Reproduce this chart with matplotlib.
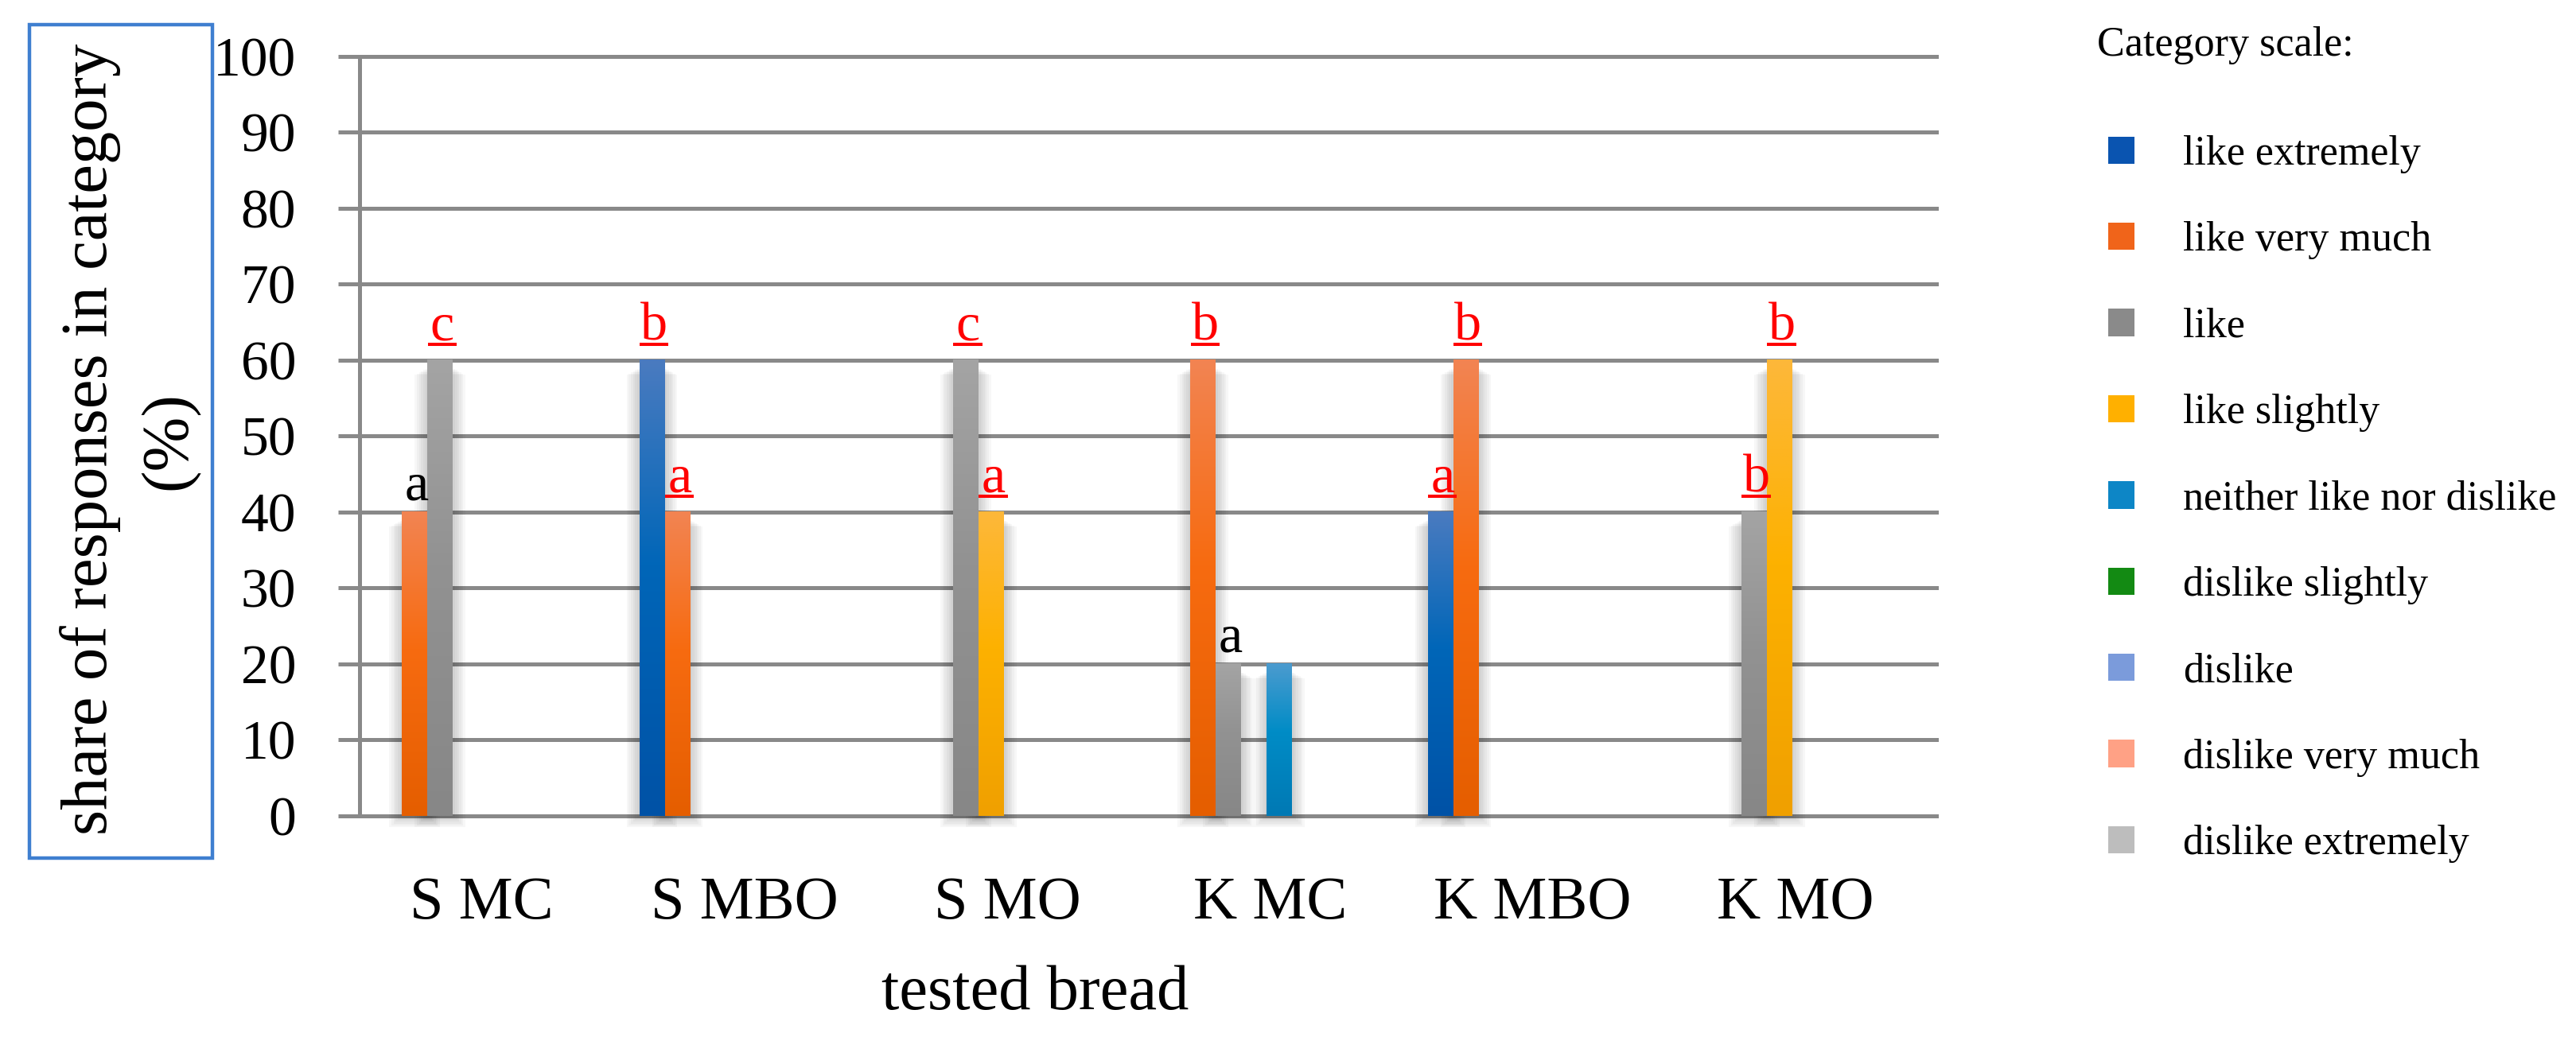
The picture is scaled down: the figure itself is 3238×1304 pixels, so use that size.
import numpy as np
import matplotlib
matplotlib.use('Agg')
import matplotlib.pyplot as plt
from matplotlib.colors import LinearSegmentedColormap
from matplotlib.patches import Patch, Rectangle

plt.rcParams['font.family'] = ['Liberation Serif', 'DejaVu Serif']

breads = ['S MC', 'S MBO', 'S MO', 'K MC', 'K MBO', 'K MO']
scale = ['like extremely', 'like very much', 'like', 'like slightly',
         'neither like nor dislike', 'dislike slightly', 'dislike',
         'dislike very much', 'dislike extremely']

# share of responses (%) per bread, one list per category of the scale
like_extremely = [0, 60, 0, 0, 40, 0]
like_very_much = [40, 40, 0, 60, 60, 0]
like = [60, 0, 60, 20, 0, 40]
like_slightly = [0, 0, 40, 0, 0, 60]
neither = [0, 0, 0, 20, 0, 0]
dislike_slightly = [0, 0, 0, 0, 0, 0]
dislike = [0, 0, 0, 0, 0, 0]
dislike_very_much = [0, 0, 0, 0, 0, 0]
dislike_extremely = [0, 0, 0, 0, 0, 0]

# letters over the bars: bread index, scale index, letter, red+underlined
sig_bread = [0, 0, 1, 1, 2, 2, 3, 3, 4, 4, 5, 5]
sig_scale = [1, 2, 0, 1, 2, 3, 1, 2, 0, 1, 2, 3]
sig_letter = ['a', 'c', 'b', 'a', 'c', 'a', 'b', 'a', 'a', 'b', 'b', 'b']
sig_red = [False, True, True, True, True, True, True, False, True, True, True, True]

colors = ['#0A54B0', '#F0641A', '#8A8A8A', '#FFB000', '#0D86C6',
          '#138A13', '#7B9BDB', '#FFA185', '#BDBDBD']
# bottom, middle, top of the bar gradient
grads = [('#0152A6', '#0066B8', '#4A7BC0'),
         ('#E55E00', '#F76B10', '#F28452'),
         ('#878787', '#929292', '#A4A4A4'),
         ('#F0A000', '#FDB100', '#FDB83A'),
         ('#0079B4', '#008CC6', '#4B9BCF'),
         ('#0E7A0E', '#138A13', '#4FA84F'),
         ('#6A8AD0', '#7B9BDB', '#9AB2E4'),
         ('#FF9070', '#FFA185', '#FFB8A0'),
         ('#AFAFAF', '#BDBDBD', '#CDCDCD')]

GRID = '#898989'


def main():
    values = [like_extremely, like_very_much, like, like_slightly, neither,
              dislike_slightly, dislike, dislike_very_much, dislike_extremely]
    n = len(scale)
    w = 0.0968
    x = np.arange(len(breads))

    fig = plt.figure(figsize=(32.38, 13.04), dpi=100)
    ax = fig.add_axes([0.1396, 0.2132, 0.6121, 0.7324])

    for k, vals in enumerate(values):
        xs = x + (k - (n - 1) / 2) * w
        bars = ax.bar(xs, vals, w, color=colors[k], linewidth=0, zorder=3)
        cmap = LinearSegmentedColormap.from_list(
            'g%d' % k, [(0, grads[k][0]), (0.55, grads[k][1]), (1, grads[k][2])])
        for b in bars:
            h = b.get_height()
            if h <= 0:
                continue
            x0 = b.get_x()
            # soft shadow
            for j in range(1, 7):
                pad = j * 0.008
                ax.add_patch(Rectangle((x0 - pad, -0.25 * j), w + 2 * pad, h - 1.0 + 0.1 * j,
                                       color='k', alpha=0.032, lw=0, zorder=2, clip_on=False))
            ax.imshow(np.linspace(0, 1, 200).reshape(-1, 1), extent=(x0, x0 + w, 0, h),
                      origin='lower', aspect='auto', cmap=cmap, zorder=3.5,
                      interpolation='bilinear')

    for bi, si, let, red in zip(sig_bread, sig_scale, sig_letter, sig_red):
        xc = x[bi] + (si - (n - 1) / 2) * w + 0.008
        top = values[si][bi]
        if red:
            ax.text(xc, top + 2.7, let, ha='center', va='baseline', fontsize=49,
                    color='red', zorder=6)
            ax.plot([xc - 0.055, xc + 0.055], [top + 2.1, top + 2.1], color='red',
                    lw=2.9, solid_capstyle='butt', zorder=6)
        else:
            ax.text(xc, top + 1.6, let, ha='center', va='baseline', fontsize=49,
                    color='black', zorder=6)

    ax.set_xlim(-0.5, 5.5)
    ax.set_ylim(0, 100)
    ax.set_yticks(range(0, 101, 10))
    ax.set_xticks(x - 0.036, breads)
    ax.tick_params(axis='y', direction='out', length=19.4, width=3.6, color=GRID,
                   labelsize=50, pad=38)
    ax.tick_params(axis='x', length=0, labelsize=55, pad=55)
    ax.grid(axis='y', color=GRID, lw=3.6)
    ax.set_axisbelow(True)
    for gl in ax.yaxis.get_gridlines():
        gl.set_clip_on(False)
    for s in ['top', 'right', 'bottom']:
        ax.spines[s].set_visible(False)
    ax.spines['left'].set_color(GRID)
    ax.spines['left'].set_linewidth(3.6)

    ax.set_xlabel('tested bread', fontsize=58)
    ax.xaxis.set_label_coords(0.4284, -0.196)

    fig.text(113 / 3238, 1 - 552 / 1304, 'share of responses in category', rotation=90,
             ha='center', va='center', fontsize=59.5)
    fig.text(213 / 3238, 1 - 554 / 1304, '(%)', rotation=90,
             ha='center', va='center', fontsize=59.5)
    fig.add_artist(Rectangle((37 / 3238, 1 - 1079 / 1304), 230 / 3238, 1048 / 1304,
                             transform=fig.transFigure, fill=False,
                             edgecolor='#3F7FD0', lw=3.2))

    fig.text(2636 / 3238, 1 - 57 / 1304, 'Category scale:', ha='left', va='center',
             fontsize=37.5)
    handles = [Patch(facecolor=c, edgecolor='none') for c in colors]
    fig.legend(handles, scale, loc='upper left', bbox_to_anchor=(0.8184, 0.8696),
               frameon=False, fontsize=37.5, handlelength=0.64, handleheight=0.64,
               handletextpad=1.16, labelspacing=1.16, borderpad=0, borderaxespad=0)

    fig.savefig('out.png', dpi=100)


if __name__ == '__main__':
    main()
